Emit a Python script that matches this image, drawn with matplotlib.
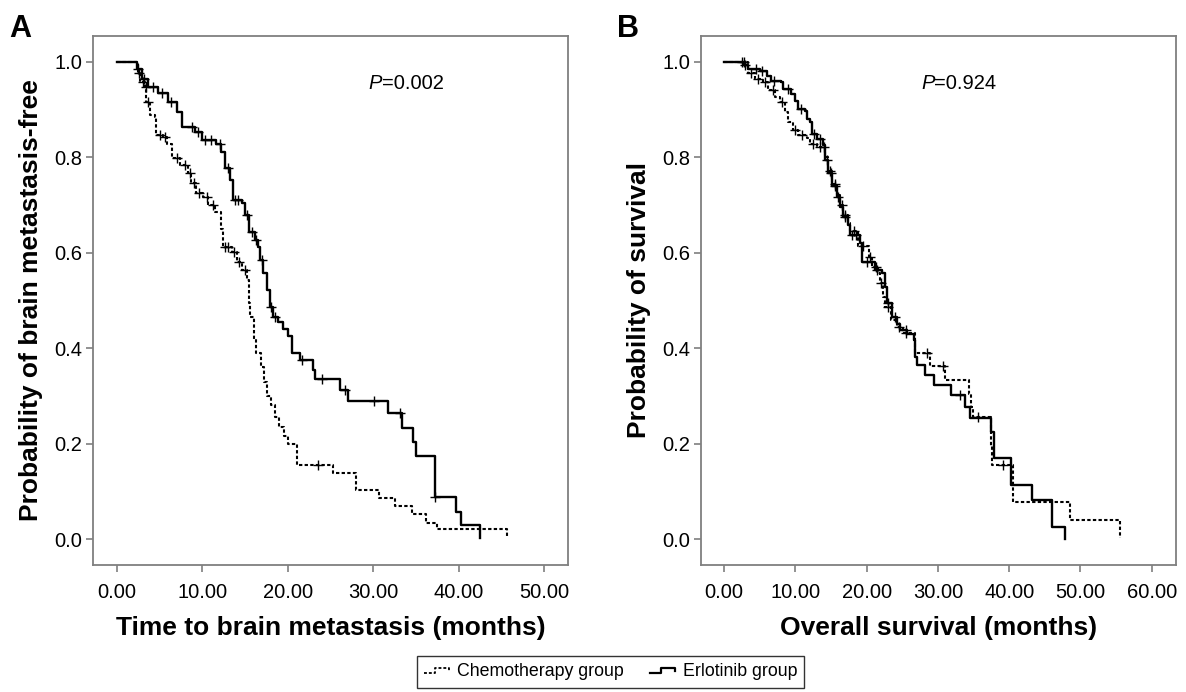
import matplotlib
matplotlib.use("Agg")
import matplotlib.pyplot as plt
import numpy as np
from matplotlib.legend_handler import HandlerBase
from matplotlib.lines import Line2D

plt.rcParams['font.family'] = ['Liberation Sans', 'DejaVu Sans']

# ---------------- Data ----------------
# Panel A: time to brain metastasis
A_erl_t = [0, 2.3, 2.9, 3.6, 4.8, 6.0, 7.0, 7.6, 9.1, 9.9, 11.6, 12.2, 12.6, 13.2, 13.6, 14.6,
           15.0, 15.4, 16.1, 16.5, 16.7, 17.1, 17.5, 17.9, 18.3, 18.8, 19.4, 20.0, 20.5,
           21.4, 22.9, 23.2, 26.1, 27.05, 31.7, 33.3, 34.6, 35.0, 37.2, 39.7, 40.2, 42.5]
A_erl_s = [1.0, 0.985, 0.965, 0.948, 0.934, 0.917, 0.896, 0.864, 0.854, 0.836, 0.829, 0.812,
           0.777, 0.753, 0.711, 0.704, 0.679, 0.644, 0.627, 0.613, 0.585, 0.557, 0.522, 0.487,
           0.466, 0.455, 0.44, 0.425, 0.389, 0.375, 0.355, 0.335, 0.312, 0.289, 0.264,
           0.233, 0.204, 0.174, 0.089, 0.057, 0.029, 0.003]
A_erl_cens = [2.5, 3.2, 4.2, 5.3, 6.3, 8.8, 9.5, 10.3, 11.0, 12.0, 13.0, 13.8, 14.2, 15.2,
              15.8, 16.3, 17.0, 18.0, 18.5, 21.6, 24.0, 26.7, 30.1, 33.1, 37.2]

A_che_t = [0, 2.5, 2.7, 3.3, 3.45, 3.9, 4.4, 4.6, 5.4, 5.8, 6.4, 7.4, 8.3, 8.7, 9.3, 10.1,
           10.7, 11.5, 12.2, 12.4, 13.4, 14.0, 14.6, 15.2, 15.4, 15.6, 16.0, 16.3, 16.8, 17.2,
           17.6, 18.0, 18.5, 19.0, 19.5, 20.0, 21.0, 25.3, 28.0, 30.6, 32.5, 34.5, 36.2, 37.4,
           45.6]
A_che_s = [1.0, 0.976, 0.959, 0.948, 0.917, 0.889, 0.885, 0.847, 0.843, 0.829, 0.798, 0.784,
           0.767, 0.746, 0.725, 0.718, 0.700, 0.686, 0.65, 0.613, 0.602, 0.581, 0.564, 0.543,
           0.494, 0.466, 0.42, 0.39, 0.36, 0.33, 0.30, 0.28, 0.255, 0.235, 0.215, 0.20, 0.155,
           0.138, 0.103, 0.087, 0.069, 0.052, 0.034, 0.020, 0.003]
A_che_cens = [2.6, 3.0, 3.4, 3.6, 5.0, 5.6, 7.0, 8.0, 8.5, 9.0, 9.6, 10.5, 11.2, 12.6, 13.0,
              13.7, 14.3, 15.0, 23.5]

# Panel B: overall survival
B_erl_t = [0, 2.8, 3.3, 5.0, 6.0, 6.6, 8.0, 8.3, 9.4, 10.0, 10.4, 11.3, 11.6, 12.1, 12.3, 13.0,
           13.9, 14.2, 14.6, 15.1, 15.8, 16.3, 16.7, 17.4, 17.7, 19.1, 19.3, 21.2, 22.1, 22.6,
           22.8, 23.5, 24.2, 24.7, 25.7, 26.6, 26.8, 27.0, 28.2, 29.5, 31.9, 33.8, 34.5, 37.5,
           37.9, 40.3, 43.2, 46.0, 47.8]
B_erl_s = [1.0, 0.993, 0.986, 0.982, 0.971, 0.961, 0.958, 0.944, 0.933, 0.919, 0.902, 0.898,
           0.881, 0.874, 0.849, 0.839, 0.825, 0.795, 0.767, 0.739, 0.718, 0.697, 0.676, 0.658,
           0.637, 0.620, 0.581, 0.564, 0.557, 0.529, 0.494, 0.466, 0.45, 0.438, 0.43, 0.417,
           0.382, 0.365, 0.344, 0.323, 0.302, 0.277, 0.253, 0.225, 0.169, 0.113, 0.082, 0.026,
           0.0]
B_erl_cens = [2.5, 3.0, 4.5, 5.3, 7.0, 9.0, 10.8, 12.6, 13.4, 14.4, 15.0, 15.5, 16.0, 17.0,
              18.0, 18.5, 20.0, 21.5, 23.0, 24.0, 25.5, 33.1]

B_che_t = [0, 3.4, 4.3, 5.5, 6.2, 7.2, 7.9, 8.6, 9.0, 9.7, 10.4, 11.6, 12.1, 13.0, 14.2, 14.6,
           15.1, 15.8, 16.3, 16.7, 17.4, 17.7, 18.8, 20.3, 20.8, 21.6, 21.9, 22.3, 22.6, 23.4,
           24.2, 25.1, 26.8, 28.9, 31.0, 34.3, 34.6, 34.9, 37.5, 37.6, 40.5, 48.5, 55.5]
B_che_s = [1.0, 0.976, 0.965, 0.958, 0.941, 0.927, 0.917, 0.896, 0.875, 0.857, 0.847, 0.840,
           0.829, 0.822, 0.80, 0.772, 0.745, 0.722, 0.70, 0.68, 0.662, 0.645, 0.615, 0.592,
           0.571, 0.557, 0.536, 0.508, 0.487, 0.46, 0.445, 0.431, 0.389, 0.362, 0.333, 0.305,
           0.277, 0.256, 0.194, 0.155, 0.078, 0.040, 0.003]
B_che_cens = [2.8, 3.8, 4.8, 5.8, 6.8, 8.2, 10.0, 11.0, 12.5, 13.5, 14.0, 14.8, 15.5, 16.5,
              17.0, 18.2, 19.5, 20.5, 21.3, 22.0, 23.0, 24.5, 25.5, 28.5, 30.7, 35.6, 39.2]

A_xticks = [0, 10, 20, 30, 40, 50]
B_xticks = [0, 10, 20, 30, 40, 50, 60]
yticks = [0.0, 0.2, 0.4, 0.6, 0.8, 1.0]
A_xlabel = "Time to brain metastasis (months)"
B_xlabel = "Overall survival (months)"
A_ylabel = "Probability of brain metastasis-free"
B_ylabel = "Probability of survival"
A_p = "0.002"
B_p = "0.924"
legend_labels = ["Chemotherapy group", "Erlotinib group"]

# ---------------- Styles ----------------
DOT = (0, (1.6, 1.1))
FRAME = '#7f7f7f'


def step_value(ts, ss, x):
    idx = np.searchsorted(np.asarray(ts), x, side='right') - 1
    return np.asarray(ss)[idx]


def draw_panel(ax, erl, che, xticks, xlim, xlabel, ylabel, ptxt, px):
    for (t, s, c), ls, lw in [(che, DOT, 1.5), (erl, '-', 1.7)]:
        ax.step(t, s, where='post', color='black', linestyle=ls, linewidth=lw)
        cy = [step_value(t, s, x) for x in c]
        ax.plot(c, cy, linestyle='none', marker='+', color='black', markersize=6.5,
                markeredgewidth=1.0)
    ax.set_xlim(*xlim)
    ax.set_ylim(-0.0545, 1.0545)
    ax.set_xticks(xticks)
    ax.set_xticklabels([f"{v:.2f}" for v in xticks])
    ax.set_yticks(yticks)
    ax.set_yticklabels([f"{v:.1f}" for v in yticks])
    ax.tick_params(axis='x', length=5, width=1.2, color=FRAME, pad=8.0, labelsize=14.5)
    ax.tick_params(axis='y', length=5, width=1.2, color=FRAME, pad=3.0, labelsize=14.5)
    for sp in ax.spines.values():
        sp.set_color(FRAME)
        sp.set_linewidth(1.3)
    ax.set_xlabel(xlabel, fontsize=19, fontweight='bold', labelpad=10)
    ax.set_ylabel(ylabel, fontsize=19, fontweight='bold', labelpad=8)
    ax.text(px, 0.955, "P", style='italic', fontsize=14.5, ha='right', va='center')
    ax.text(px, 0.955, "=" + ptxt, fontsize=14.5, ha='left', va='center')


class StepHandler(HandlerBase):
    def __init__(self, ls, lw):
        super().__init__()
        self.ls = ls
        self.lw = lw

    def create_artists(self, legend, orig_handle, xdescent, ydescent, width, height,
                       fontsize, trans):
        x0 = -xdescent
        w = width
        h = height
        xs = [x0, x0 + 0.45 * w, x0 + 0.45 * w, x0 + w, x0 + w]
        ys = [0.25 * h, 0.25 * h, 0.7 * h, 0.7 * h, 0.45 * h]
        ln = Line2D(xs, ys, color='black', linestyle=self.ls, linewidth=self.lw,
                    transform=trans)
        return [ln]


fig = plt.figure(figsize=(11.86, 6.92), dpi=100)
axA = fig.add_axes([93 / 1186, 1 - 565 / 692, 475 / 1186, 529 / 692])
axB = fig.add_axes([701 / 1186, 1 - 565 / 692, 475 / 1186, 529 / 692])

draw_panel(axA, (A_erl_t, A_erl_s, A_erl_cens), (A_che_t, A_che_s, A_che_cens), A_xticks,
           (-2.8, 52.75), A_xlabel, A_ylabel, A_p, 31.0)
draw_panel(axB, (B_erl_t, B_erl_s, B_erl_cens), (B_che_t, B_che_s, B_che_cens), B_xticks,
           (-3.23, 63.4), B_xlabel, B_ylabel, B_p, 29.5)

fig.text(9 / 1186, 1 - 29 / 692, "A", fontsize=22, fontweight='bold', va='center', ha='left')
fig.text(617 / 1186, 1 - 29 / 692, "B", fontsize=22, fontweight='bold', va='center', ha='left')

h1 = Line2D([], [], color='black')
h2 = Line2D([], [], color='black')
leg = fig.legend([h1, h2], legend_labels, loc='center', bbox_to_anchor=(610.5 / 1186, 1 - 672 / 692),
                 ncol=2, frameon=True, fancybox=False, fontsize=12.8, handlelength=1.4,
                 handletextpad=0.45, columnspacing=1.5, borderpad=0.4, borderaxespad=0.0,
                 handler_map={h1: StepHandler(DOT, 1.3), h2: StepHandler('-', 1.6)})
leg.get_frame().set_edgecolor('black')
leg.get_frame().set_linewidth(1.0)

fig.savefig("out.png", dpi=100)
